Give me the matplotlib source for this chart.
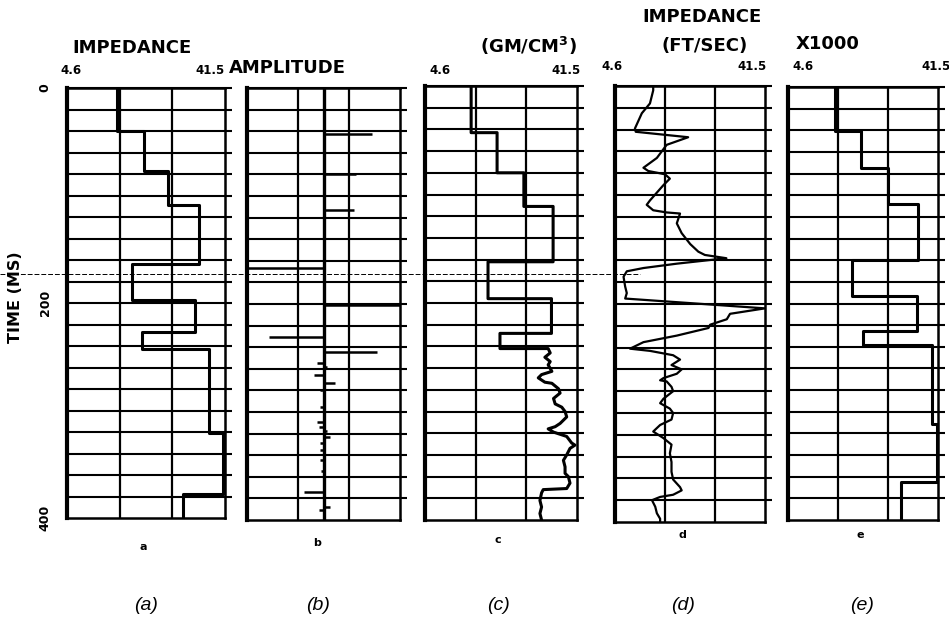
import numpy as np
import matplotlib
matplotlib.use("Agg")
import matplotlib.pyplot as plt
from matplotlib.lines import Line2D

plt.rcParams.update({"font.family": "DejaVu Sans", "font.weight": "bold"})

W, H = 949, 637
ZMIN, ZMAX = 4.6, 41.5
TMAX = 400

# (a) blocky impedance model: layer boundaries (ms) and impedances
a_bounds = [0, 40, 77, 109, 164, 197, 227, 243, 321, 378, 400]
a_vals = [16.3, 22.6, 28.2, 35.4, 19.8, 34.5, 22.1, 37.8, 41.0, 31.7]

# (b) reflection series: time (ms) and amplitude (panel half-width = 1)
b_t = [43, 80, 113, 167, 201, 231, 244, 255, 258, 266, 273, 280, 295, 309,
       314, 318, 323, 329, 335, 344, 355, 374, 388, 391]
b_amp = [0.64, 0.42, 0.40, -1.0, 1.0, -0.71, 0.70, -0.08, 0.05, -0.12, 0.15,
         -0.05, -0.05, -0.08, -0.06, 0.05, 0.08, -0.05, -0.04, -0.04, -0.03,
         -0.26, 0.08, -0.06]

# (c) blocky upper part + detailed lower part
c_bounds = [0, 43, 80, 111, 162, 196, 228, 242]
c_vals = [15.8, 22.1, 28.6, 35.7, 19.9, 35.3, 22.8]
c_wig_t = [242, 246, 250, 254, 257, 263, 266, 269, 273, 274, 279, 283, 288,
           293, 296, 300, 305, 311, 314, 316, 319, 323, 329, 331, 334, 340,
           345, 351, 357, 360, 366, 371, 372, 375, 382, 388, 394, 400]
c_wig_z = [34.5, 35.0, 33.7, 35.0, 34.5, 35.4, 32.9, 32.1, 33.7, 35.4, 37.0,
           37.4, 35.8, 36.2, 37.8, 38.6, 39.0, 37.4, 36.2, 34.5, 35.8, 39.0,
           40.2, 41.0, 39.8, 39.0, 38.2, 38.6, 38.6, 39.4, 39.8, 39.0, 33.3,
           32.9, 32.5, 32.9, 32.5, 32.9]

# (d) inverted impedance trace
d_t = [0, 4, 16, 25, 39, 42, 47, 54, 66, 75, 78, 81, 85, 91, 105, 109, 114,
       116, 117, 126, 135, 145, 152, 155, 158, 163, 167, 170, 175, 184, 190,
       195, 204, 209, 214, 219, 222, 229, 235, 241, 243, 247, 251, 256, 260,
       264, 268, 270, 271, 276, 280, 287, 291, 296, 300, 306, 311, 317, 323,
       329, 337, 345, 354, 361, 368, 371, 375, 377, 380, 386, 392, 397, 400]
d_z = [14.0, 14.0, 13.2, 11.2, 9.5, 9.7, 22.6, 17.3, 14.9, 11.6, 12.8, 16.9,
       18.1, 16.5, 13.2, 12.4, 14.0, 17.3, 20.6, 19.8, 21.0, 23.1, 25.1, 26.7,
       32.0, 19.8, 11.6, 7.5, 6.7, 7.1, 7.5, 7.1, 41.5, 32.9, 32.1, 28.0,
       27.6, 19.8, 11.6, 8.3, 13.2, 18.9, 20.6, 18.5, 21.0, 19.8, 16.5, 15.7,
       17.3, 18.5, 18.9, 16.5, 15.7, 18.1, 18.9, 18.5, 15.7, 14.0, 16.5, 18.5,
       18.1, 18.5, 18.5, 18.9, 20.6, 21.0, 18.9, 15.7, 13.7, 14.5, 14.9, 15.7,
       15.7]

# (e) blocky impedance model
e_bounds = [0, 41, 75, 108, 160, 193, 225, 238, 311, 365, 400]
e_vals = [16.2, 22.5, 29.3, 36.7, 20.3, 36.3, 23.1, 40.0, 41.3, 32.3]

panel_letters = ["a", "b", "c", "d", "e"]
captions = ["(a)", "(b)", "(c)", "(d)", "(e)"]


def step_xy(bounds, vals):
    xs, ys = [], []
    for i, v in enumerate(vals):
        xs += [v, v]
        ys += [bounds[i], bounds[i + 1]]
    return xs, ys


fig = plt.figure(figsize=(W / 100, H / 100), dpi=100)


def panel(x0, y0, x1, y1, xlim):
    ax = fig.add_axes([x0 / W, 1 - y1 / H, (x1 - x0) / W, (y1 - y0) / H])
    ax.set_xlim(*xlim)
    ax.set_ylim(TMAX, 0)
    ax.set_xticks([])
    ax.set_yticks([])
    for s in ax.spines.values():
        s.set_linewidth(1.8)
    ax.spines["left"].set_linewidth(3.0)
    for t in range(0, TMAX, 20):
        ax.plot([0, 1.045], [t, t], transform=ax.get_yaxis_transform(),
                color="k", lw=1.5, clip_on=False, solid_capstyle="butt")
    return ax


thirds = [ZMIN + (ZMAX - ZMIN) / 3, ZMIN + 2 * (ZMAX - ZMIN) / 3]

ax_a = panel(67, 88, 225, 518, (ZMIN, ZMAX))
ax_b = panel(247, 88, 400, 520, (-1, 1))
ax_c = panel(425, 86, 577, 520, (ZMIN, ZMAX))
ax_d = panel(615, 86, 765, 522, (ZMIN, ZMAX))
ax_e = panel(788, 87, 938, 520, (ZMIN, ZMAX))

for ax in (ax_a, ax_c, ax_d, ax_e):
    for xv in thirds:
        ax.axvline(xv, color="k", lw=1.6)
for xv, lw in [(-1 / 3, 1.6), (0, 2.4), (1 / 3, 1.6)]:
    ax_b.axvline(xv, color="k", lw=lw)

# curves
x, y = step_xy(a_bounds, a_vals)
ax_a.plot(x, y, color="k", lw=2.2)

ax_b.hlines(b_t, 0, b_amp, color="k", lw=1.8)

x, y = step_xy(c_bounds, c_vals)
ax_c.plot(x + c_wig_z, y + c_wig_t, color="k", lw=2.2)

ax_d.plot(d_z, d_t, color="k", lw=1.6)

x, y = step_xy(e_bounds, e_vals)
ax_e.plot(x, y, color="k", lw=2.2)

# time axis on the first panel
ax_a.set_yticks([0, 200, 400])
ax_a.set_yticklabels(["0", "200", "400"], rotation=90, va="center",
                     fontsize=9, fontweight="bold")
ax_a.tick_params(axis="y", length=0, pad=11)
fig.text(16 / W, 1 - 297 / H, "TIME (MS)", rotation=90, ha="center",
         va="center", fontsize=11.5, fontweight="bold")

# scale labels above the panels
scale_pos = [(71, 70, "4.6"), (210, 70, "41.5"), (440, 70, "4.6"),
             (566, 70, "41.5"), (612, 67, "4.6"), (752, 67, "41.5"),
             (803, 67, "4.6"), (936, 67, "41.5")]
for px, py, s in scale_pos:
    fig.text(px / W, 1 - py / H, s, ha="center", va="center", fontsize=8.5,
             fontweight="bold")

title_kw = dict(ha="center", va="center", fontsize=13, fontweight="bold")
fig.text(132 / W, 1 - 48 / H, "IMPEDANCE", **title_kw)
fig.text(287 / W, 1 - 68 / H, "AMPLITUDE", **title_kw)
fig.text(702 / W, 1 - 17 / H, "IMPEDANCE", **title_kw)
fig.text(528 / W, 1 - 46 / H, "(GM/CM$^{\\mathbf{3}}$)", **title_kw)
fig.text(705 / W, 1 - 46 / H, "(FT/SEC)", **title_kw)
fig.text(828 / W, 1 - 44 / H, "X1000", **title_kw)

# stray scan fold line
fig.add_artist(Line2D([0, 640 / W], [1 - 274 / H, 1 - 274 / H], color="k",
                      lw=0.7, ls=(0, (5, 2))))

letter_x = [143, 317, 498, 682, 860]
letter_y = [547, 543, 540, 535, 535]
for lx, ly, s in zip(letter_x, letter_y, panel_letters):
    fig.text(lx / W, 1 - ly / H, s, ha="center", va="center", fontsize=8,
             fontweight="bold")

cap_x = [146, 318, 498, 683, 862]
for cx, s in zip(cap_x, captions):
    fig.text(cx / W, 1 - 605 / H, s, ha="center", va="center", fontsize=14,
             fontweight="normal", style="italic", family="Liberation Sans")

fig.savefig("out.png", dpi=100, facecolor="white")
